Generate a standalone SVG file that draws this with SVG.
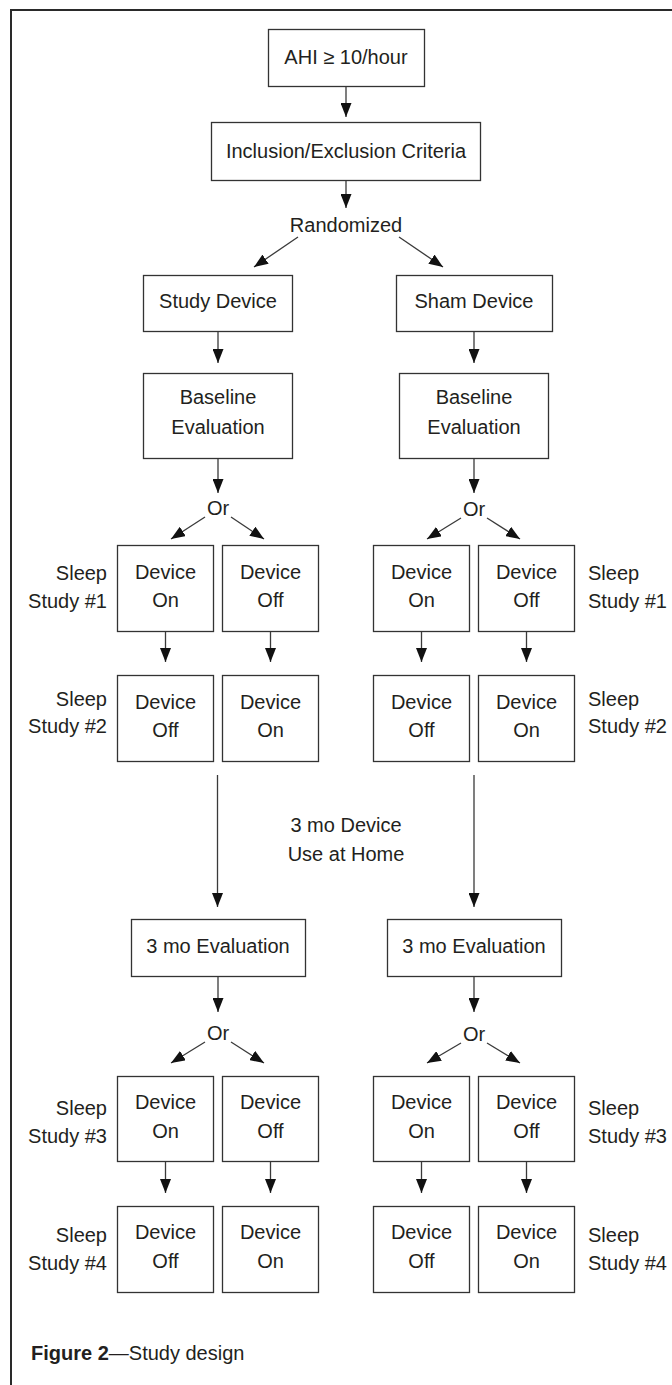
<svg xmlns="http://www.w3.org/2000/svg" width="672" height="1385" viewBox="0 0 672 1385">
  <style>
    .box { fill: #ffffff; stroke: #333333; stroke-width: 1.3; }
    .t { font-family: "Liberation Sans", Arial, sans-serif; font-size: 20px; fill: #231f20; text-anchor: middle; }
    .lbl { font-family: "Liberation Sans", Arial, sans-serif; font-size: 20px; fill: #231f20; }
    .end { text-anchor: end; }
    .link { stroke: #3a3a3a; stroke-width: 1.3; fill: none; marker-end: url(#arrow); }
    .frame { stroke: #2a2a2a; stroke-width: 2; fill: none; }
  </style>
  <defs>
    <marker id="arrow" markerUnits="userSpaceOnUse" markerWidth="14" markerHeight="11" refX="14" refY="5.5" orient="auto">
      <path d="M0,0 L14,5.5 L0,11 z" fill="#111111"/>
    </marker>
  </defs>

  <rect width="672" height="1385" fill="#ffffff"/>

  <!-- page frame: top and left rules -->
  <path class="frame" d="M11,1385 L11,10 L672,10"/>

  <!-- screening -->
  <g id="ahi">
    <rect class="box" x="268.5" y="29.5" width="156" height="57"/>
    <text class="t" x="346" y="64">AHI ≥ 10/hour</text>
  </g>
  <g id="criteria">
    <rect class="box" x="211.5" y="122.5" width="269" height="58"/>
    <text class="t" x="346" y="158">Inclusion/Exclusion Criteria</text>
  </g>
  <g id="randomized">
    <text class="t" x="346" y="232">Randomized</text>
  </g>

  <!-- study arm -->
  <g id="study-device">
    <rect class="box" x="143.5" y="275.5" width="149" height="56"/>
    <text class="t" x="218" y="308">Study Device</text>
  </g>
  <g id="study-baseline">
    <rect class="box" x="143.5" y="373.5" width="149" height="85"/>
    <text class="t" x="218" y="404">Baseline</text>
    <text class="t" x="218" y="434">Evaluation</text>
  </g>
  <g id="study-or1"><text class="t" x="218" y="515">Or</text></g>

  <!-- sham arm -->
  <g id="sham-device">
    <rect class="box" x="396.5" y="275.5" width="156" height="56"/>
    <text class="t" x="474" y="308">Sham Device</text>
  </g>
  <g id="sham-baseline">
    <rect class="box" x="399.5" y="373.5" width="149" height="85"/>
    <text class="t" x="474" y="404">Baseline</text>
    <text class="t" x="474" y="434">Evaluation</text>
  </g>
  <g id="sham-or1"><text class="t" x="474" y="516">Or</text></g>

  <!-- sleep studies 1 and 2 -->
  <g id="s1-left-on">
    <rect class="box" x="117.5" y="545.5" width="96" height="86"/>
    <text class="t" x="165.5" y="579">Device</text>
    <text class="t" x="165.5" y="607">On</text>
  </g>
  <g id="s1-left-off">
    <rect class="box" x="222.5" y="545.5" width="96" height="86"/>
    <text class="t" x="270.5" y="579">Device</text>
    <text class="t" x="270.5" y="607">Off</text>
  </g>
  <g id="s1-right-on">
    <rect class="box" x="373.5" y="545.5" width="96" height="86"/>
    <text class="t" x="421.5" y="579">Device</text>
    <text class="t" x="421.5" y="607">On</text>
  </g>
  <g id="s1-right-off">
    <rect class="box" x="478.5" y="545.5" width="96" height="86"/>
    <text class="t" x="526.5" y="579">Device</text>
    <text class="t" x="526.5" y="607">Off</text>
  </g>
  <g id="s2-left-off">
    <rect class="box" x="117.5" y="675.5" width="96" height="86"/>
    <text class="t" x="165.5" y="709">Device</text>
    <text class="t" x="165.5" y="737">Off</text>
  </g>
  <g id="s2-left-on">
    <rect class="box" x="222.5" y="675.5" width="96" height="86"/>
    <text class="t" x="270.5" y="709">Device</text>
    <text class="t" x="270.5" y="737">On</text>
  </g>
  <g id="s2-right-off">
    <rect class="box" x="373.5" y="675.5" width="96" height="86"/>
    <text class="t" x="421.5" y="709">Device</text>
    <text class="t" x="421.5" y="737">Off</text>
  </g>
  <g id="s2-right-on">
    <rect class="box" x="478.5" y="675.5" width="96" height="86"/>
    <text class="t" x="526.5" y="709">Device</text>
    <text class="t" x="526.5" y="737">On</text>
  </g>

  <g id="label-s1-left">
    <text class="lbl end" x="107" y="580">Sleep</text>
    <text class="lbl end" x="107" y="608">Study #1</text>
  </g>
  <g id="label-s2-left">
    <text class="lbl end" x="107" y="706">Sleep</text>
    <text class="lbl end" x="107" y="733">Study #2</text>
  </g>
  <g id="label-s1-right">
    <text class="lbl" x="588" y="580">Sleep</text>
    <text class="lbl" x="588" y="608">Study #1</text>
  </g>
  <g id="label-s2-right">
    <text class="lbl" x="588" y="706">Sleep</text>
    <text class="lbl" x="588" y="733">Study #2</text>
  </g>

  <!-- home use period -->
  <g id="home-use">
    <text class="t" x="346" y="832">3 mo Device</text>
    <text class="t" x="346" y="861">Use at Home</text>
  </g>

  <g id="study-eval3">
    <rect class="box" x="131.5" y="919.5" width="174" height="57"/>
    <text class="t" x="218" y="953">3 mo Evaluation</text>
  </g>
  <g id="sham-eval3">
    <rect class="box" x="387.5" y="919.5" width="174" height="57"/>
    <text class="t" x="474" y="953">3 mo Evaluation</text>
  </g>
  <g id="study-or2"><text class="t" x="218" y="1040">Or</text></g>
  <g id="sham-or2"><text class="t" x="474" y="1041">Or</text></g>

  <!-- sleep studies 3 and 4 -->
  <g id="s3-left-on">
    <rect class="box" x="117.5" y="1076.5" width="96" height="85"/>
    <text class="t" x="165.5" y="1109">Device</text>
    <text class="t" x="165.5" y="1138">On</text>
  </g>
  <g id="s3-left-off">
    <rect class="box" x="222.5" y="1076.5" width="96" height="85"/>
    <text class="t" x="270.5" y="1109">Device</text>
    <text class="t" x="270.5" y="1138">Off</text>
  </g>
  <g id="s3-right-on">
    <rect class="box" x="373.5" y="1076.5" width="96" height="85"/>
    <text class="t" x="421.5" y="1109">Device</text>
    <text class="t" x="421.5" y="1138">On</text>
  </g>
  <g id="s3-right-off">
    <rect class="box" x="478.5" y="1076.5" width="96" height="85"/>
    <text class="t" x="526.5" y="1109">Device</text>
    <text class="t" x="526.5" y="1138">Off</text>
  </g>
  <g id="s4-left-off">
    <rect class="box" x="117.5" y="1206.5" width="96" height="86"/>
    <text class="t" x="165.5" y="1239">Device</text>
    <text class="t" x="165.5" y="1268">Off</text>
  </g>
  <g id="s4-left-on">
    <rect class="box" x="222.5" y="1206.5" width="96" height="86"/>
    <text class="t" x="270.5" y="1239">Device</text>
    <text class="t" x="270.5" y="1268">On</text>
  </g>
  <g id="s4-right-off">
    <rect class="box" x="373.5" y="1206.5" width="96" height="86"/>
    <text class="t" x="421.5" y="1239">Device</text>
    <text class="t" x="421.5" y="1268">Off</text>
  </g>
  <g id="s4-right-on">
    <rect class="box" x="478.5" y="1206.5" width="96" height="86"/>
    <text class="t" x="526.5" y="1239">Device</text>
    <text class="t" x="526.5" y="1268">On</text>
  </g>

  <g id="label-s3-left">
    <text class="lbl end" x="107" y="1115">Sleep</text>
    <text class="lbl end" x="107" y="1143">Study #3</text>
  </g>
  <g id="label-s4-left">
    <text class="lbl end" x="107" y="1242">Sleep</text>
    <text class="lbl end" x="107" y="1270">Study #4</text>
  </g>
  <g id="label-s3-right">
    <text class="lbl" x="588" y="1115">Sleep</text>
    <text class="lbl" x="588" y="1143">Study #3</text>
  </g>
  <g id="label-s4-right">
    <text class="lbl" x="588" y="1242">Sleep</text>
    <text class="lbl" x="588" y="1270">Study #4</text>
  </g>

  <!-- caption -->
  <g id="caption">
    <text class="lbl" x="31" y="1360"><tspan font-weight="bold">Figure 2</tspan>—Study design</text>
  </g>

  <!-- connectors -->
  <g id="connectors">
    <line class="link" x1="346" y1="87" x2="346" y2="117"/>
    <line class="link" x1="346" y1="181" x2="346" y2="208"/>
    <line class="link" x1="298" y1="237" x2="254" y2="267"/>
    <line class="link" x1="399" y1="237" x2="443" y2="267"/>

    <line class="link" x1="218" y1="332" x2="218" y2="363"/>
    <line class="link" x1="474" y1="332" x2="474" y2="363"/>
    <line class="link" x1="218" y1="459" x2="218" y2="493"/>
    <line class="link" x1="474" y1="459" x2="474" y2="493"/>

    <line class="link" x1="205" y1="517" x2="171" y2="539"/>
    <line class="link" x1="231" y1="517" x2="264" y2="539"/>
    <line class="link" x1="461" y1="518" x2="427" y2="539"/>
    <line class="link" x1="487" y1="518" x2="520" y2="539"/>

    <line class="link" x1="165.5" y1="632" x2="165.5" y2="662"/>
    <line class="link" x1="270.5" y1="632" x2="270.5" y2="662"/>
    <line class="link" x1="421.5" y1="632" x2="421.5" y2="662"/>
    <line class="link" x1="526.5" y1="632" x2="526.5" y2="662"/>

    <line class="link" x1="217.5" y1="775" x2="217.5" y2="907"/>
    <line class="link" x1="474" y1="775" x2="474" y2="907"/>

    <line class="link" x1="218" y1="977" x2="218" y2="1012"/>
    <line class="link" x1="474" y1="977" x2="474" y2="1012"/>

    <line class="link" x1="205" y1="1042" x2="171" y2="1063"/>
    <line class="link" x1="231" y1="1042" x2="264" y2="1063"/>
    <line class="link" x1="461" y1="1043" x2="427" y2="1063"/>
    <line class="link" x1="487" y1="1043" x2="520" y2="1063"/>

    <line class="link" x1="165.5" y1="1162" x2="165.5" y2="1193"/>
    <line class="link" x1="270.5" y1="1162" x2="270.5" y2="1193"/>
    <line class="link" x1="421.5" y1="1162" x2="421.5" y2="1193"/>
    <line class="link" x1="526.5" y1="1162" x2="526.5" y2="1193"/>
  </g>
</svg>
